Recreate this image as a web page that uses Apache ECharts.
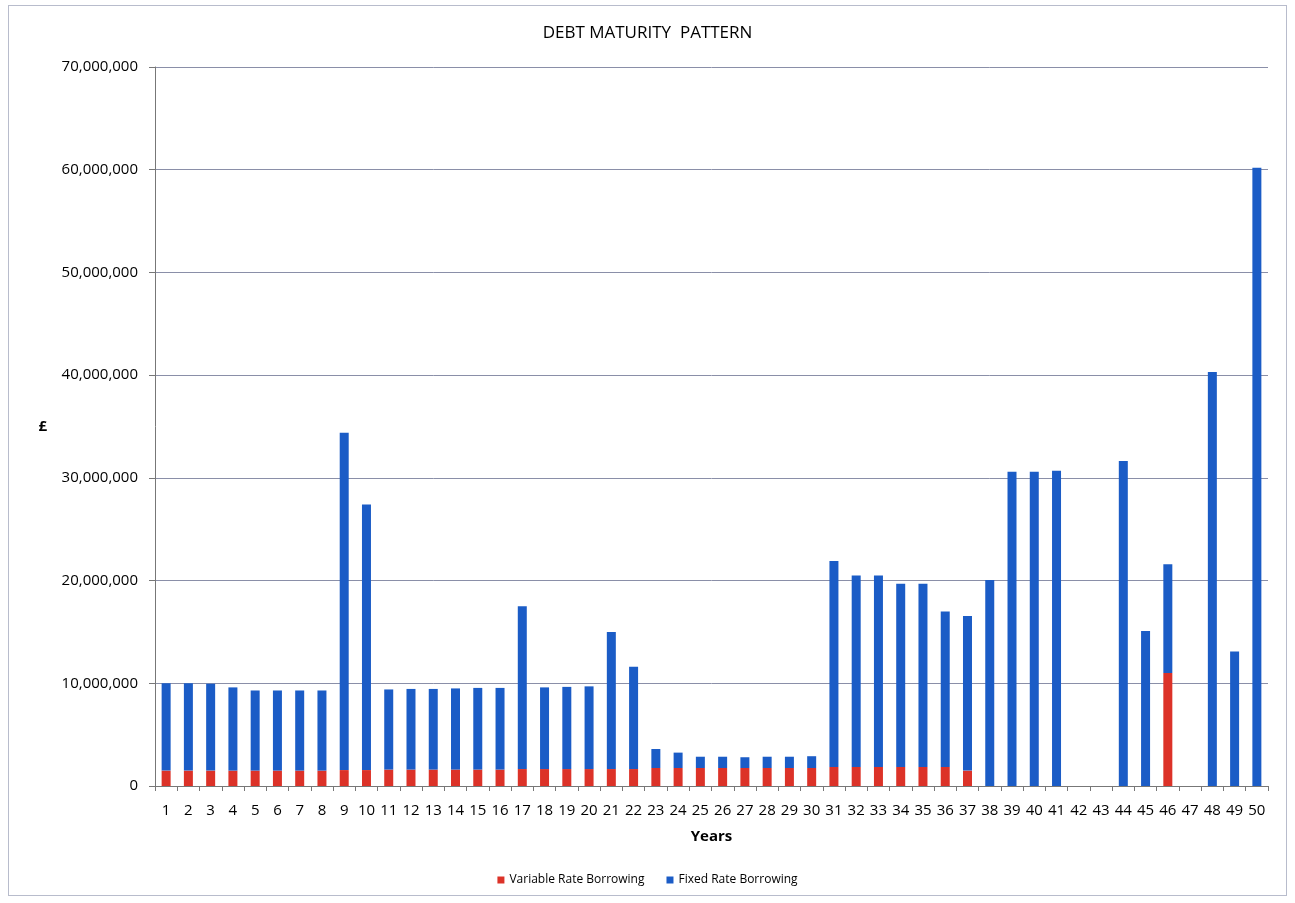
<!DOCTYPE html>
<html>
<head>
<meta charset="utf-8">
<script src="https://cdn.jsdelivr.net/npm/echarts@6/dist/echarts.min.js"></script>
<style>
  html, body { margin: 0; padding: 0; background: #fff; }
  #frame { position: absolute; left: 8px; top: 5px; width: 1279px; height: 891px; border: 1px solid #b8bccc; box-sizing: border-box; }
  #chart { position: absolute; left: 0; top: 0; width: 1295px; height: 903px; }
</style>
</head>
<body>
<div id="frame"></div>
<div id="chart"></div>
<script>
// Years to maturity
const years = [];
for (let i = 1; i <= 50; i++) years.push(String(i));

// Total debt maturing in each year (£)
const totalBorrowing = [
  10000000, 10000000, 9950000, 9600000, 9300000, 9300000, 9300000, 9300000, 34400000, 27400000,
  9400000, 9450000, 9450000, 9500000, 9550000, 9550000, 17500000, 9600000, 9650000, 9700000,
  15000000, 11600000, 3600000, 3250000, 2850000, 2850000, 2800000, 2850000, 2850000, 2900000,
  21900000, 20500000, 20500000, 19700000, 19700000, 17000000, 16550000, 20050000, 30600000, 30600000,
  30700000, 0, 0, 31650000, 15100000, 21600000, 0, 40300000, 13100000, 60200000
];

// Variable rate portion (£)
const variableRate = [
  1500000, 1500000, 1500000, 1500000, 1500000, 1500000, 1500000, 1500000, 1550000, 1550000,
  1600000, 1600000, 1600000, 1600000, 1600000, 1600000, 1650000, 1650000, 1650000, 1650000,
  1650000, 1650000, 1750000, 1750000, 1750000, 1750000, 1750000, 1750000, 1750000, 1750000,
  1850000, 1850000, 1850000, 1850000, 1850000, 1850000, 1500000, 0, 0, 0,
  0, 0, 0, 0, 0, 11000000, 0, 0, 0, 0
];

// Fixed rate portion (£)
const fixedRate = totalBorrowing.map((t, i) => t - variableRate[i]);

const yTicks = [0, 10000000, 20000000, 30000000, 40000000, 50000000, 60000000, 70000000];

const font = '"Open Sans", "Liberation Sans", Arial, sans-serif';
const chart = echarts.init(document.getElementById('chart'));
chart.setOption({
  animation: false,
  backgroundColor: 'transparent',
  title: {
    text: 'DEBT MATURITY  PATTERN',
    left: 'center', top: 20,
    textStyle: { fontFamily: font, fontSize: 17, fontWeight: 'normal', color: '#000' }
  },
  legend: {
    bottom: 12, left: 'center',
    itemWidth: 7, itemHeight: 7, itemGap: 22,
    icon: 'rect',
    textStyle: { fontFamily: font, fontSize: 12, color: '#000' },
    data: ['Variable Rate Borrowing', 'Fixed Rate Borrowing']
  },
  grid: { left: 155, right: 27, top: 67, bottom: 117 },
  xAxis: {
    type: 'category',
    data: years,
    name: 'Years',
    nameLocation: 'middle',
    nameGap: 43,
    nameTextStyle: { fontFamily: font, fontSize: 15, fontWeight: 'bold', color: '#000' },
    axisLine: { lineStyle: { color: '#777', width: 1 } },
    axisTick: { show: true, length: 5, lineStyle: { color: '#777' } },
    axisLabel: { fontFamily: font, fontSize: 15, color: '#000', margin: 17, interval: 0 }
  },
  yAxis: {
    type: 'value',
    min: 0, max: 70000000, interval: 10000000,
    name: '£',
    nameLocation: 'middle',
    nameGap: 108,
    nameRotate: 0,
    nameTextStyle: { fontFamily: font, fontSize: 15, fontWeight: 'bold', color: '#000' },
    axisLine: { show: true, lineStyle: { color: '#777' } },
    axisTick: { show: true, length: 6, lineStyle: { color: '#777' } },
    splitLine: { lineStyle: { color: '#8a8fa8', width: 1 } },
    axisLabel: {
      fontFamily: font, fontSize: 15, color: '#000', margin: 17,
      formatter: v => yTicks.includes(v) ? v.toLocaleString('en-GB') : ''
    }
  },
  series: [
    {
      name: 'Variable Rate Borrowing', type: 'bar', stack: 'debt',
      data: variableRate, barWidth: 9,
      itemStyle: { color: '#dc3228' }
    },
    {
      name: 'Fixed Rate Borrowing', type: 'bar', stack: 'debt',
      data: fixedRate, barWidth: 9,
      itemStyle: { color: '#1b5cc6' }
    }
  ]
});
</script>
</body>
</html>
